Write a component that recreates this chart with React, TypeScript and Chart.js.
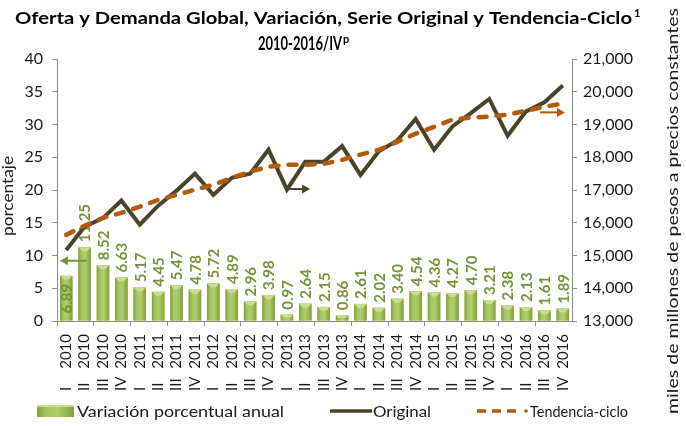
import { useEffect, useRef } from "react";
import { Chart, registerables } from "chart.js";

Chart.register(...registerables);

const categories = [
  "I 2010", "II 2010", "III 2010", "IV 2010",
  "I 2011", "II 2011", "III 2011", "IV 2011",
  "I 2012", "II 2012", "III 2012", "IV 2012",
  "I 2013", "II 2013", "III 2013", "IV 2013",
  "I 2014", "II 2014", "III 2014", "IV 2014",
  "I 2015", "II 2015", "III 2015", "IV 2015",
  "I 2016", "II 2016", "III 2016", "IV 2016",
];

const variacion = [
  6.89, 11.25, 8.52, 6.63,
  5.17, 4.45, 5.47, 4.78,
  5.72, 4.89, 2.96, 3.98,
  0.97, 2.64, 2.15, 0.86,
  2.61, 2.02, 3.4, 4.54,
  4.36, 4.27, 4.7, 3.21,
  2.38, 2.13, 1.61, 1.89,
];

const original = [
  15170, 15880, 16140, 16680,
  15940, 16520, 16980, 17500,
  16850, 17370, 17500, 18230,
  17010, 17860, 17860, 18340,
  17460, 18180, 18510, 19170,
  18230, 18940, 19350, 19780,
  18660, 19400, 19680, 20190,
];

const tendencia = [
  15630, 15910, 16150, 16300,
  16490, 16700, 16850, 17010,
  17160, 17370, 17560, 17710,
  17770, 17770, 17800, 17920,
  18080, 18230, 18470, 18720,
  18930, 19150, 19210, 19240,
  19300, 19420, 19540, 19640,
];

const leftTicks = [0, 40, 5];
const rightTicks = [13000, 21000, 1000];

const titleLine1 = "Oferta y Demanda Global, Variación, Serie Original y Tendencia-Ciclo";
const titleSup1 = "1";
const titleLine2 = "2010-2016/IV";
const titleSup2 = "p";
const leftAxisTitle = "porcentaje";
const rightAxisTitle = "miles de millones de pesos a precios constantes";
const legendLabels = ["Variación porcentual anual", "Original", "Tendencia-ciclo"];

// Arrow annotations: which axis they point to (category positions / axis values)
const arrowSpecs = [
  { axis: "y", from: 1.13, to: -0.34, value: 9.2, color: "#77933C" },
  { axis: "y2", from: 12.06, to: 13.26, value: 17030, color: "#4A452A" },
  { axis: "y2", from: 25.76, to: 27.12, value: 19370, color: "#B45A0A" },
];

const GREEN = "#9BBB59";
const LABEL_GREEN = "#77933C";
const DARK = "#4A452A";
const ORANGE = "#B45A0A";
const AXIS_GRAY = "#8C8C8C";
const TEXT = "#1A1A1A";
const FONT = "Lato, 'Open Sans', sans-serif";

function fitText(ctx: CanvasRenderingContext2D, text: string, x: number, y: number, width: number, font: string, rot = 0) {
  ctx.save();
  ctx.font = font;
  const w = ctx.measureText(text).width;
  ctx.translate(x, y);
  if (rot) ctx.rotate(rot);
  ctx.scale(width / w, 1);
  ctx.textAlign = "left";
  ctx.fillText(text, 0, 0);
  ctx.restore();
}

function barGradient(ctx: CanvasRenderingContext2D, x0: number, x1: number) {
  const g = ctx.createLinearGradient(x0, 0, x1, 0);
  g.addColorStop(0, "#7F9F3A");
  g.addColorStop(0.25, "#A3C460");
  g.addColorStop(0.55, "#AECF6A");
  g.addColorStop(1, "#80A03B");
  return g;
}

const customPlugin = {
  id: "customDraw",
  afterDatasetDraw(chart: any, args: any) {
    if (args.index !== 0) return;
    const ctx: CanvasRenderingContext2D = chart.ctx;
    const meta = chart.getDatasetMeta(0);
    ctx.save();
    meta.data.forEach((el: any, i: number) => {
      const { x, y, base, width } = el.getProps(["x", "y", "base", "width"], true);
      const x0 = x - width / 2;
      const x1 = x + width / 2;
      ctx.fillStyle = barGradient(ctx, x0, x1);
      ctx.fillRect(x0, y, width, base - y);
      // top bevel
      const bev = Math.min(4, (base - y) / 2);
      ctx.fillStyle = "#C6DE8E";
      ctx.beginPath();
      ctx.moveTo(x0, y);
      ctx.lineTo(x1, y);
      ctx.lineTo(x1 - bev, y + bev);
      ctx.lineTo(x0 + bev, y + bev);
      ctx.closePath();
      ctx.fill();
      // value label
      const txt = variacion[i].toFixed(2);
      ctx.fillStyle = LABEL_GREEN;
      ctx.font = `bold 15px ${FONT}`;
      ctx.textBaseline = "middle";
      ctx.save();
      if (i === 0) {
        ctx.translate(x + 1, y + 8);
        ctx.rotate(-Math.PI / 2);
        ctx.textAlign = "right";
      } else {
        ctx.translate(x + 1, y - 5);
        ctx.rotate(-Math.PI / 2);
        ctx.textAlign = "left";
      }
      ctx.fillText(txt, 0, 0);
      ctx.restore();
    });
    ctx.restore();
  },
  afterDraw(chart: any) {
    const ctx: CanvasRenderingContext2D = chart.ctx;
    const xs = chart.scales.x;
    ctx.save();
    ctx.fillStyle = "#000";
    ctx.textBaseline = "alphabetic";
    // Title
    fitText(ctx, titleLine1, 15, 24, 617, `bold 17px ${FONT}`);
    ctx.font = `bold 11px ${FONT}`;
    ctx.textAlign = "left";
    ctx.fillText(titleSup1, 634, 17);
    fitText(ctx, titleLine2, 258, 50, 84, `bold 18px ${FONT}`);
    ctx.font = `bold 11px ${FONT}`;
    ctx.fillText(titleSup2, 343, 43);

    // Axis titles
    ctx.fillStyle = TEXT;
    ctx.textBaseline = "middle";
    fitText(ctx, leftAxisTitle, 8, 236, 80, `16px ${FONT}`, -Math.PI / 2);
    fitText(ctx, rightAxisTitle, 673, 414, 406, `16px ${FONT}`, -Math.PI / 2);

    // X labels
    ctx.font = `15px ${FONT}`;
    categories.forEach((c, i) => {
      const [roman, year] = c.split(" ");
      const x = xs.getPixelForValue(i);
      ctx.save();
      ctx.translate(x, 0);
      ctx.rotate(-Math.PI / 2);
      ctx.textAlign = "right";
      ctx.fillText(year, -334, 0);
      ctx.textAlign = "left";
      ctx.fillText(roman, -391, 0);
      ctx.restore();
    });

    // Arrows
    arrowSpecs.forEach((a) => {
      const ys = chart.scales[a.axis];
      const y = ys.getPixelForValue(a.value);
      const xa = xs.getPixelForValue(a.from);
      const xb = xs.getPixelForValue(a.to);
      const dir = Math.sign(xb - xa);
      ctx.strokeStyle = a.color;
      ctx.fillStyle = a.color;
      ctx.lineWidth = 2;
      ctx.beginPath();
      ctx.moveTo(xa, y);
      ctx.lineTo(xb - dir * 6, y);
      ctx.stroke();
      ctx.beginPath();
      ctx.moveTo(xb, y);
      ctx.lineTo(xb - dir * 8, y - 4.5);
      ctx.lineTo(xb - dir * 8, y + 4.5);
      ctx.closePath();
      ctx.fill();
    });

    // Legend
    const ly = 411;
    ctx.fillStyle = barGradient(ctx, 37, 74);
    ctx.fillRect(37, ly - 6, 37, 12);
    ctx.fillStyle = "#C6DE8E";
    ctx.fillRect(37, ly - 6, 37, 2);
    ctx.fillStyle = TEXT;
    ctx.textBaseline = "middle";
    fitText(ctx, legendLabels[0], 77, ly + 1, 207, `16px ${FONT}`);

    ctx.strokeStyle = DARK;
    ctx.lineWidth = 3.5;
    ctx.beginPath();
    ctx.moveTo(330, ly);
    ctx.lineTo(372, ly);
    ctx.stroke();
    fitText(ctx, legendLabels[1], 373, ly + 1, 58, `16px ${FONT}`);

    ctx.strokeStyle = ORANGE;
    ctx.lineWidth = 3.5;
    ctx.setLineDash([9, 6]);
    ctx.beginPath();
    ctx.moveTo(477, ly);
    ctx.lineTo(520, ly);
    ctx.stroke();
    ctx.setLineDash([]);
    ctx.fillStyle = ORANGE;
    ctx.beginPath();
    ctx.arc(526, ly, 1.8, 0, Math.PI * 2);
    ctx.fill();
    ctx.fillStyle = TEXT;
    fitText(ctx, legendLabels[2], 530, ly + 1, 98, `16px ${FONT}`);
    ctx.restore();
  },
};

export default function App() {
  const ref = useRef<HTMLCanvasElement | null>(null);

  useEffect(() => {
    if (!ref.current) return;
    const chart = new Chart(ref.current, {
      type: "bar",
      data: {
        labels: categories,
        datasets: [
          {
            type: "bar",
            label: legendLabels[0],
            data: variacion,
            yAxisID: "y",
            backgroundColor: GREEN,
            borderWidth: 0,
            barPercentage: 0.68,
            categoryPercentage: 1,
            order: 3,
          },
          {
            type: "line",
            label: legendLabels[1],
            data: original,
            yAxisID: "y2",
            borderColor: DARK,
            borderWidth: 4,
            pointRadius: 0,
            tension: 0,
            fill: false,
            order: 2,
          },
          {
            type: "line",
            label: legendLabels[2],
            data: tendencia,
            yAxisID: "y2",
            borderColor: ORANGE,
            borderWidth: 4.5,
            borderDash: [8, 10],
            borderCapStyle: "round",
            pointRadius: 0,
            tension: 0,
            fill: false,
            order: 1,
          },
        ] as any,
      },
      options: {
        animation: false,
        responsive: false,
        maintainAspectRatio: false,
        layout: { padding: { top: 59, left: 0, right: 0, bottom: 0 } },
        plugins: {
          legend: { display: false },
          title: { display: false },
          tooltip: { enabled: false },
        },
        scales: {
          x: {
            offset: true,
            grid: {
              display: true,
              drawOnChartArea: false,
              tickLength: 5,
              offset: true,
              tickColor: (c: any) => (c.index % 2 === 0 ? AXIS_GRAY : "rgba(0,0,0,0)"),
              color: AXIS_GRAY,
            },
            border: { color: AXIS_GRAY, width: 1 },
            ticks: { display: false, autoSkip: false },
            afterFit: (s: any) => {
              s.height = 105;
            },
          },
          y: {
            position: "left",
            min: leftTicks[0],
            max: leftTicks[1],
            ticks: {
              stepSize: leftTicks[2],
              padding: 9,
              color: TEXT,
              font: { family: FONT, size: 16 },
            },
            grid: { drawOnChartArea: false, tickLength: 5, color: AXIS_GRAY },
            border: { color: AXIS_GRAY, width: 1 },
            afterFit: (s: any) => {
              s.width = 57;
            },
          },
          y2: {
            position: "right",
            min: rightTicks[0],
            max: rightTicks[1],
            ticks: {
              stepSize: rightTicks[2],
              padding: 6,
              color: TEXT,
              font: { family: FONT, size: 16 },
              callback: (v: any) => Number(v).toLocaleString("en-US"),
            },
            grid: { drawOnChartArea: false, tickLength: 5, color: AXIS_GRAY },
            border: { color: AXIS_GRAY, width: 1 },
            afterFit: (s: any) => {
              s.width = 114;
            },
          },
        },
      } as any,
      plugins: [customPlugin],
    });
    return () => chart.destroy();
  }, []);

  return (
    <div style={{ position: "fixed", left: 0, top: 0, width: 686, height: 426, background: "#fff" }}>
      <canvas ref={ref} width={686} height={426} style={{ width: 686, height: 426 }} />
    </div>
  );
}
